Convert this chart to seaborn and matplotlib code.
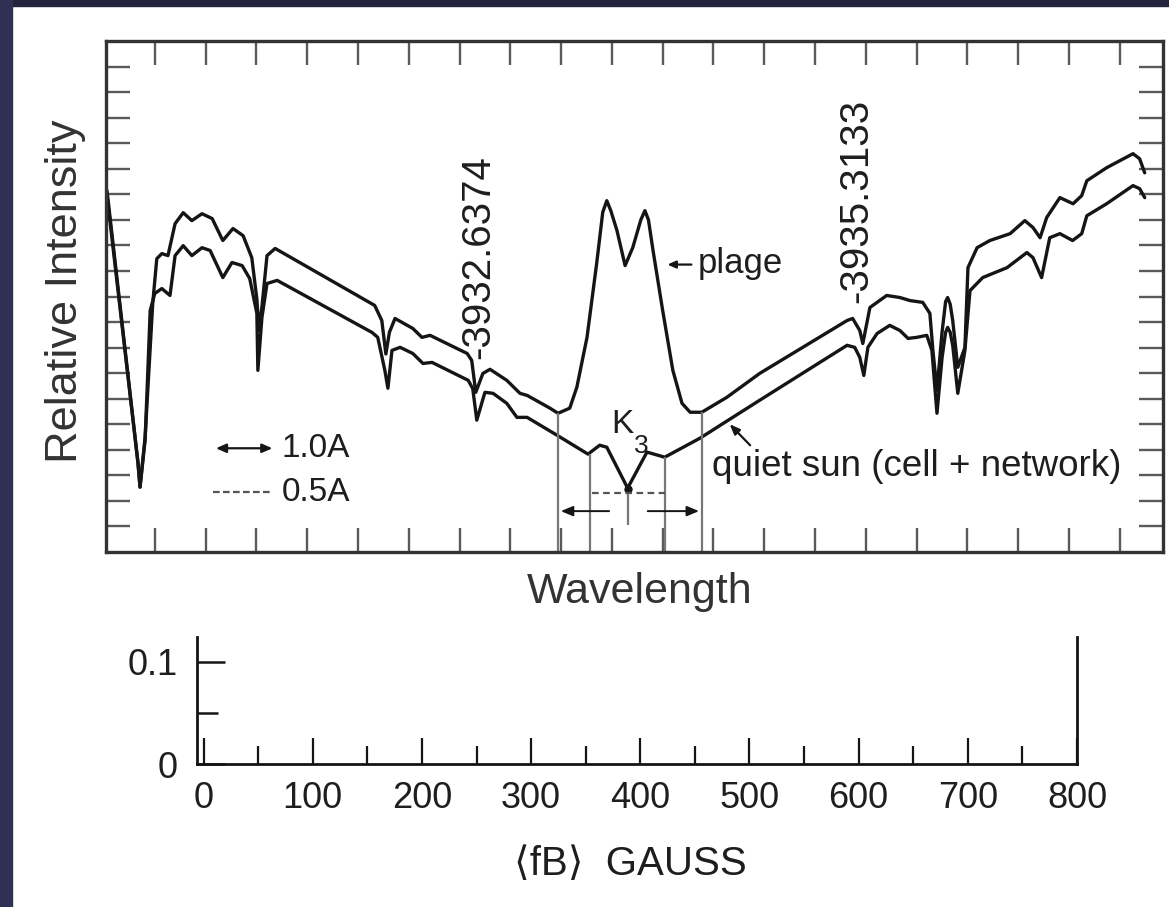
import matplotlib
matplotlib.use("Agg")
import matplotlib.pyplot as plt
from matplotlib.patches import Rectangle
import seaborn as sns

sns.set_theme(style="white")
plt.rcParams['font.family'] = ['Liberation Sans', 'DejaVu Sans']

# wavelength in top-tick units, intensity in left-tick units
plage_x = [0.06, 0.67, 0.71, 0.81, 0.96, 1.04, 1.14, 1.26, 1.40, 1.56, 1.73, 1.93, 2.13, 2.34,
           2.54, 2.74, 2.91, 3.01, 3.05, 3.11, 3.21, 3.37, 5.33, 5.47, 5.55, 5.62, 5.73, 6.08,
           6.26, 6.42, 7.15, 7.24, 7.32, 7.46, 7.60, 7.93, 8.19, 8.33, 8.78, 8.94, 9.17, 9.31,
           9.51, 9.70, 9.82, 9.90, 9.98, 10.10, 10.26, 10.41, 10.57, 10.65, 10.72, 10.81, 11.00,
           11.20, 11.38, 11.54, 11.77, 12.26, 12.91, 14.63, 14.74, 14.88, 14.94, 15.08, 15.41,
           15.67, 15.87, 16.12, 16.26, 16.32, 16.40, 16.50, 16.57, 16.61, 16.66, 16.71, 16.81,
           16.95, 17.01, 17.19, 17.44, 17.84, 18.13, 18.29, 18.43, 18.56, 18.82, 19.08, 19.25,
           19.35, 19.74, 20.26, 20.39, 20.49]
plage_y = [14.14, 3.48, 2.54, 4.49, 9.73, 11.48, 11.68, 11.60, 12.85, 13.28, 12.97, 13.24, 13.05, 12.19,
           12.66, 12.38, 11.52, 9.90, 8.67, 9.60, 11.60, 11.88, 9.65, 9.06, 7.75, 8.60, 9.14, 8.75,
           8.40, 8.48, 7.77, 7.50, 6.25, 6.99, 7.15, 6.72, 6.21, 6.13, 5.63, 5.43, 5.63, 6.45,
           8.40, 11.29, 13.30, 13.75, 13.35, 12.58, 11.21, 11.91, 13.00, 13.36, 13.00, 11.80, 9.45,
           7.11, 5.82, 5.47, 5.47, 6.05, 6.99, 9.06, 9.14, 8.67, 8.16, 9.57, 10.04,
           9.96, 9.84, 9.77, 9.34, 7.89, 6.33, 8.60, 9.80, 9.96, 9.70, 9.06, 7.23,
           8.00, 11.13, 11.91, 12.19, 12.46, 12.97, 12.70, 12.30, 13.09, 13.87, 13.63, 13.95,
           14.53, 15.04, 15.59, 15.39, 14.84]

quiet_x = [0.06, 0.67, 0.71, 0.81, 0.91, 1.00, 1.14, 1.30, 1.40, 1.56, 1.73, 1.93, 2.09, 2.34,
           2.52, 2.72, 2.87, 3.01, 3.03, 3.11, 3.21, 3.41, 5.28, 5.39, 5.53, 5.59, 5.67, 5.83,
           6.08, 6.28, 6.46, 7.17, 7.26, 7.34, 7.50, 7.66, 7.93, 8.13, 8.33, 8.92, 9.53, 9.76,
           9.90, 10.31, 10.69, 11.04, 11.73, 12.91, 14.63, 14.78, 14.88, 14.96, 15.04, 15.22,
           15.47, 15.67, 15.83, 16.00, 16.20, 16.30, 16.40, 16.50, 16.57, 16.61, 16.66, 16.71,
           16.81, 16.95, 17.05, 17.30, 17.78, 18.17, 18.29, 18.46, 18.62, 18.82, 19.07, 19.25,
           19.35, 19.74, 20.26, 20.39, 20.49]
quiet_y = [13.95, 3.48, 2.54, 4.38, 9.45, 10.12, 10.31, 10.04, 11.60, 11.99, 11.60, 11.91, 11.80, 10.74,
           11.33, 11.21, 10.70, 9.34, 7.11, 9.18, 10.51, 10.63, 8.59, 8.40, 7.11, 6.41, 7.89, 8.01,
           7.77, 7.38, 7.42, 6.72, 6.40, 5.16, 6.25, 6.21, 5.82, 5.27, 5.27, 4.57, 3.83, 4.18,
           4.10, 2.50, 3.91, 3.71, 4.45, 5.94, 8.09, 8.01, 7.62, 6.91, 8.01, 8.55,
           8.87, 8.67, 8.36, 8.40, 8.48, 7.89, 5.43, 7.60, 8.60, 8.79, 8.60, 8.09,
           6.21, 7.89, 10.23, 10.74, 11.13, 11.72, 11.52, 10.74, 12.30, 12.46, 12.19, 12.46,
           13.16, 13.63, 14.34, 14.22, 13.87]

# K-line width markers
mark_x = [8.94, 9.57, 10.31, 11.04, 11.77]
mark_top = [5.43, 3.83, 2.50, 3.71, 5.47]
mark_bottom = [0.0, 0.0, 1.05, 0.0, 0.0]

# lower panel: <fB> scale
gauss_ticks = [0, 100, 200, 300, 400, 500, 600, 700, 800]
gauss_minor = [50, 150, 250, 350, 450, 550, 650, 750]
fb_ticks = [0, 0.1]
fb_labels = ["0", "0.1"]

ink = "#151515"
txt = "#1e1e1e"
fig = plt.figure(figsize=(11.69, 9.07), dpi=100)
fig.patch.set_facecolor("white")
fig.patches.append(Rectangle((0, 1 - 6 / 907), 1, 6 / 907, transform=fig.transFigure,
                             color="#23243b", zorder=0))
fig.patches.append(Rectangle((0, 0), 12 / 1169, 1, transform=fig.transFigure,
                             color="#303055", zorder=0))

ax = fig.add_axes([106 / 1169, 1 - 552 / 907, 1057 / 1169, 511 / 907])
sns.lineplot(x=plage_x, y=plage_y, sort=False, estimator=None, color=ink, lw=2.4, ax=ax)
sns.lineplot(x=quiet_x, y=quiet_y, sort=False, estimator=None, color=ink, lw=2.4, ax=ax)
ax.set_xlim(0.04, 20.85)
ax.set_ylim(0, 20)
ax.set_xticks(range(1, 21))
ax.set_yticks(range(1, 20))
ax.tick_params(axis="both", which="major", direction="in", length=17, width=1.7,
               color="#5a5a5a", top=True, right=True, bottom=True, left=True,
               labelbottom=False, labelleft=False)
for s in ax.spines.values():
    s.set_linewidth(2.4)
    s.set_color("#333333")

ax.vlines(mark_x, mark_bottom, mark_top, color="#777777", lw=1.6)
ax.plot(10.31, 2.45, "o", color=ink, ms=5)
ax.annotate("", xy=(8.94, 1.60), xytext=(10.0, 1.60),
            arrowprops=dict(arrowstyle="-|>,head_length=0.6,head_width=0.25", color=ink, lw=1.4))
ax.annotate("", xy=(11.77, 1.60), xytext=(10.65, 1.60),
            arrowprops=dict(arrowstyle="-|>,head_length=0.6,head_width=0.25", color=ink, lw=1.4))
ax.plot([9.61, 11.04], [2.30, 2.30], ls=(0, (3, 2)), color="#555555", lw=1.6)

# key
ax.annotate("", xy=(2.15, 4.06), xytext=(3.37, 4.06),
            arrowprops=dict(arrowstyle="<|-|>,head_length=0.5,head_width=0.22", color=ink, lw=1.6))
ax.text(3.50, 4.06, "1.0A", fontsize=24, ha="left", va="center", color=txt)
ax.plot([2.15, 3.27], [2.34, 2.34], ls=(0, (3, 1.5)), color="#555555", lw=1.6)
ax.text(3.50, 2.34, "0.5A", fontsize=24, ha="left", va="center", color=txt)

# annotations
ax.text(7.36, 7.55, "-3932.6374", rotation=90, fontsize=29, ha="center", va="bottom",
        color=txt)
ax.text(14.82, 9.73, "-3935.3133", rotation=90, fontsize=29, ha="center", va="bottom",
        color=txt)
ax.annotate("", xy=(11.04, 11.25), xytext=(11.62, 11.25),
            arrowprops=dict(arrowstyle="-|>,head_length=0.4,head_width=0.18", color=ink, lw=1.6))
ax.text(11.69, 11.29, "plage", fontsize=25, ha="left", va="center", color=txt)
ax.text(10.20, 5.0, "K", fontsize=24, ha="center", va="center", color=txt)
ax.text(10.57, 4.14, "3", fontsize=19, ha="center", va="center", color=txt)
ax.annotate("", xy=(12.28, 5.08), xytext=(12.76, 4.10),
            arrowprops=dict(arrowstyle="-|>,head_length=0.5,head_width=0.2", color=ink, lw=1.6))
ax.text(11.97, 3.36, "quiet sun (cell + network)", fontsize=26.5, ha="left", va="center",
        color=txt)

fig.text(66 / 1169, 1 - 291 / 907, "Relative Intensity", rotation=90, fontsize=32.5,
         ha="center", va="center", color="#333333")
fig.text(640 / 1169, 1 - 592 / 907, "Wavelength", fontsize=31, ha="center", va="center",
         color="#333333")

# lower panel
bx = fig.add_axes([197 / 1169, 1 - 764 / 907, 880 / 1169, 127 / 907])
bx.set_xlim(-6, 800)
bx.set_ylim(0, 0.124)
bx.set_xticks(gauss_ticks)
bx.set_xticks(gauss_minor, minor=True)
bx.set_xticklabels([str(t) for t in gauss_ticks])
bx.set_yticks(fb_ticks)
bx.set_yticklabels(fb_labels)
bx.set_yticks([0.05], minor=True)
bx.tick_params(axis="x", which="major", direction="in", length=19, width=1.6, color=ink,
               labelsize=26, pad=12, labelcolor=txt, bottom=True)
bx.tick_params(axis="x", which="minor", direction="in", length=13, width=1.6, color=ink,
               bottom=True)
bx.tick_params(axis="y", which="major", direction="in", length=20, width=1.8, color=ink,
               labelsize=26, pad=14, labelcolor=txt, left=True)
bx.tick_params(axis="y", which="minor", direction="in", length=15, width=1.8, color=ink,
               left=True)
bx.spines["top"].set_visible(False)
for side in ["left", "bottom", "right"]:
    bx.spines[side].set_linewidth(2.0)
    bx.spines[side].set_color(ink)
bx.set_facecolor("none")
fig.text(630 / 1169, 1 - 864 / 907, "⟨fB⟩  GAUSS", fontsize=29, ha="center", va="center",
         color=txt)

fig.savefig("out.png", dpi=100, facecolor="white")
